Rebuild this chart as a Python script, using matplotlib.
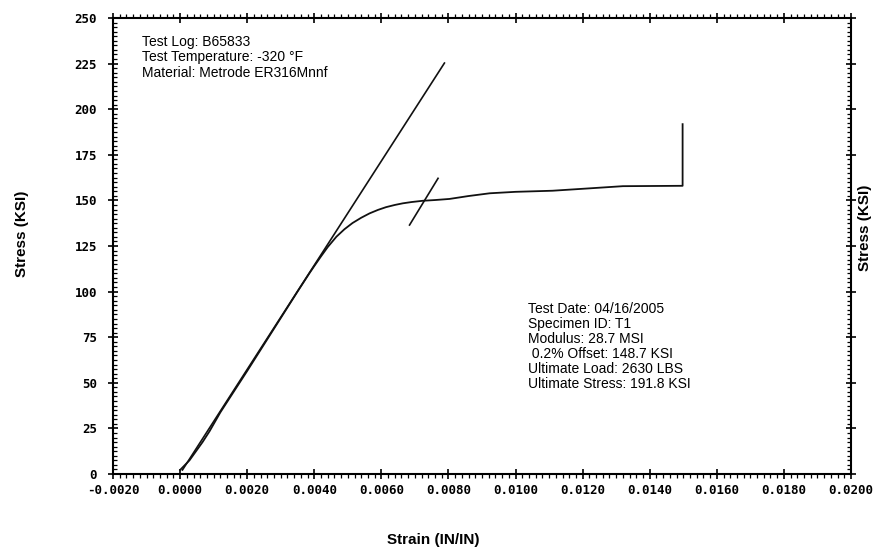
import matplotlib
matplotlib.use("Agg")
import matplotlib.pyplot as plt
from matplotlib.ticker import MultipleLocator, FormatStrFormatter

# ---- data ----
curve_strain = [0.0, 0.00028, 0.00067, 0.00088, 0.0012, 0.0020, 0.0030, 0.0035,
                0.00386, 0.0040, 0.0042, 0.0044, 0.00466, 0.0049, 0.00514, 0.0054,
                0.00565, 0.0059, 0.00614, 0.0064, 0.00664, 0.0069, 0.00724, 0.0076,
                0.00803, 0.0086, 0.00923, 0.0100, 0.0111, 0.0122, 0.0132, 0.01498, 0.01498]
curve_stress = [2.2, 7.5, 17.5, 23.5, 33.8, 56.5, 85.5, 100.0,
                110.2, 114.0, 119.3, 124.4, 130.1, 134.2, 137.6, 140.5,
                142.9, 144.8, 146.3, 147.5, 148.4, 149.1, 149.8, 150.2,
                150.8, 152.4, 153.9, 154.7, 155.3, 156.6, 157.8, 158.0, 191.8]

modulus_strain = [0.00007, 0.00788]
modulus_stress = [2.2, 225.3]

offset_strain = [0.00684, 0.00769]
offset_stress = [136.5, 162.1]

info_left = ["Test Log: B65833",
             "Test Temperature: -320 \u00b0F",
             "Material: Metrode ER316Mnnf"]
info_right = ["Test Date: 04/16/2005",
              "Specimen ID: T1",
              "Modulus: 28.7 MSI",
              " 0.2% Offset: 148.7 KSI",
              "Ultimate Load: 2630 LBS",
              "Ultimate Stress: 191.8 KSI"]

x_min, x_max = -0.002, 0.020
y_min, y_max = 0, 250

# ---- figure ----
fig = plt.figure(figsize=(8.77, 5.52), dpi=100)
ax = fig.add_axes([113/877, 1-474/552, (851-113)/877, (474-18)/552])

ax.plot(curve_strain, curve_stress, color="#111111", lw=1.3, solid_joinstyle="round")
ax.plot(modulus_strain, modulus_stress, color="#111111", lw=1.2)
ax.plot(offset_strain, offset_stress, color="#111111", lw=1.2)

ax.set_xlim(x_min, x_max)
ax.set_ylim(y_min, y_max)

ax.xaxis.set_major_locator(MultipleLocator(0.002))
ax.xaxis.set_minor_locator(MultipleLocator(0.0002))
ax.yaxis.set_major_locator(MultipleLocator(25))
ax.yaxis.set_minor_locator(MultipleLocator(2.5))
ax.xaxis.set_major_formatter(FormatStrFormatter("%.4f"))
ax.yaxis.set_major_formatter(FormatStrFormatter("%d"))

for s in ax.spines.values():
    s.set_linewidth(1.5)
    s.set_color("black")

ax.tick_params(axis="both", which="major", direction="inout", length=7, width=1.2,
               top=True, right=True)
ax.tick_params(axis="both", which="minor", length=3, width=0.9, top=True, right=True)
ax.tick_params(axis="y", which="minor", direction="in")
ax.tick_params(axis="x", which="minor", direction="out")
ax.tick_params(axis="y", which="major", pad=8)
ax.tick_params(axis="x", which="major", pad=4)
for lab in ax.get_xticklabels() + ax.get_yticklabels():
    lab.set_fontfamily("DejaVu Sans Mono")
    lab.set_fontweight("bold")
    lab.set_fontsize(9)

txtfont = dict(family="Liberation Sans", size=10)
ax.text(0.039, 0.962, "\n".join(info_left), transform=ax.transAxes,
        ha="left", va="top", linespacing=1.1, **txtfont)
ax.text(0.562, 0.378, "\n".join(info_right), transform=ax.transAxes,
        ha="left", va="top", linespacing=1.1, **txtfont)

labfont = dict(family="Liberation Sans", weight="bold", size=11)
fig.text(22/877, 1-234/552, "Stress (KSI)", rotation=90, ha="center", va="center", **labfont)
fig.text(865/877, 1-228/552, "Stress (KSI)", rotation=90, ha="center", va="center", **labfont)
fig.text(433/877, 1-540/552, "Strain (IN/IN)", ha="center", va="center", **labfont)

fig.savefig("out.png", dpi=100)
